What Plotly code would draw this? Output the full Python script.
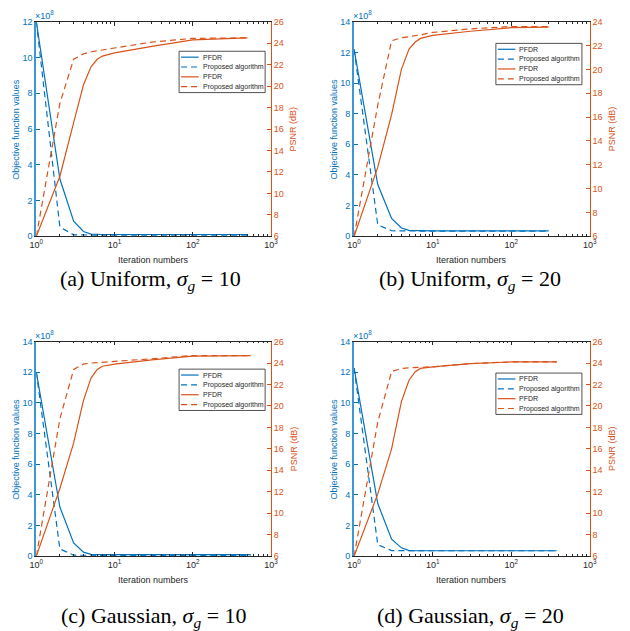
import plotly.graph_objects as go

# ---------------- data ----------------
panel_labels = ["(a) Uniform, <i>σ<sub>g</sub></i> = 10",
                "(b) Uniform, <i>σ<sub>g</sub></i> = 20",
                "(c) Gaussian, <i>σ<sub>g</sub></i> = 10",
                "(d) Gaussian, <i>σ<sub>g</sub></i> = 20"]
series_names = ["PFDR", "Proposed algorithm"]

iters_a = [1, 2, 3, 4, 5, 6, 7, 10, 30, 100, 500]
obj_pfdr_a = [12.0, 3.2, 0.84, 0.27, 0.12, 0.1, 0.1, 0.1, 0.1, 0.1, 0.1]
obj_prop_a = [12.0, 0.52, 0.08, 0.06, 0.06, 0.06, 0.06, 0.06, 0.06, 0.06, 0.06]
psnr_pfdr_a = [6.0, 11.6, 16.6, 20.1, 21.8, 22.5, 22.8, 23.1, 23.7, 24.3, 24.5]
psnr_prop_a = [6.0, 18.4, 22.5, 23.0, 23.2, 23.3, 23.4, 23.55, 24.1, 24.45, 24.5]

iters_b = [1, 2, 3, 4, 5, 6, 7, 10, 30, 100, 300]
obj_pfdr_b = [12.2, 3.38, 1.16, 0.54, 0.39, 0.37, 0.36, 0.35, 0.35, 0.35, 0.35]
obj_prop_b = [12.2, 0.75, 0.36, 0.34, 0.34, 0.34, 0.34, 0.34, 0.34, 0.34, 0.34]
psnr_pfdr_b = [6.0, 11.8, 16.2, 20.0, 21.7, 22.3, 22.6, 22.85, 23.2, 23.5, 23.55]
psnr_prop_b = [6.0, 17.0, 22.4, 22.65, 22.75, 22.8, 22.9, 23.1, 23.4, 23.6, 23.6]

iters_c = [1, 2, 3, 4, 5, 6, 7, 10, 30, 100, 550]
obj_pfdr_c = [12.0, 3.2, 0.86, 0.26, 0.12, 0.1, 0.1, 0.1, 0.1, 0.1, 0.1]
obj_prop_c = [12.0, 0.47, 0.06, 0.05, 0.05, 0.05, 0.05, 0.05, 0.05, 0.05, 0.05]
psnr_pfdr_c = [6.0, 12.3, 16.55, 20.5, 22.6, 23.4, 23.7, 23.9, 24.3, 24.65, 24.7]
psnr_prop_c = [6.0, 18.8, 23.4, 23.9, 24.0, 24.05, 24.1, 24.15, 24.4, 24.7, 24.7]

iters_d = [1, 2, 3, 4, 5, 6, 7, 10, 30, 100, 380]
obj_pfdr_d = [12.27, 3.43, 1.11, 0.54, 0.36, 0.35, 0.35, 0.35, 0.35, 0.35, 0.35]
obj_prop_d = [12.27, 0.75, 0.36, 0.35, 0.35, 0.35, 0.35, 0.35, 0.35, 0.35, 0.35]
psnr_pfdr_d = [6.0, 11.8, 16.0, 20.4, 22.4, 23.2, 23.5, 23.65, 23.95, 24.1, 24.1]
psnr_prop_d = [6.0, 18.5, 23.2, 23.5, 23.55, 23.6, 23.6, 23.65, 23.95, 24.1, 24.1]

obj_ranges = [[0, 12], [0, 14], [0, 14], [0, 14]]
psnr_ranges = [[6, 26], [6, 24], [6, 26], [6, 26]]
x_tickvals = [1, 10, 100, 1000]
x_ticktext = ["10<sup>0</sup>", "10<sup>1</sup>", "10<sup>2</sup>", "10<sup>3</sup>"]

panels = [
    (iters_a, obj_pfdr_a, obj_prop_a, psnr_pfdr_a, psnr_prop_a),
    (iters_b, obj_pfdr_b, obj_prop_b, psnr_pfdr_b, psnr_prop_b),
    (iters_c, obj_pfdr_c, obj_prop_c, psnr_pfdr_c, psnr_prop_c),
    (iters_d, obj_pfdr_d, obj_prop_d, psnr_pfdr_d, psnr_prop_d),
]

# ---------------- layout geometry (pixels) ----------------
W, H = 630, 631
BLUE = "#0072BD"
BLUE_AX = "#3d96d6"
ORANGE = "#D95319"
GRAY = "#262626"
DASH = "6px,4px"
boxes = [(30, 270, 17, 235), (355, 596, 17, 235), (30, 270, 342, 560), (355, 596, 342, 560)]
legend_pos = [(176, 47), (500, 39), (176, 370), (500, 374)]
caption_pos = [(147, 279), (474, 279), (150, 622), (474, 622)]

def px(x):
    return x / W

def py(y):
    return 1 - y / H

minor_vals = [m * 10 ** d for d in range(3) for m in range(2, 10)]

fig = go.Figure()
layout = dict(width=W, height=H, margin=dict(l=0, r=0, t=0, b=0),
              paper_bgcolor="white", plot_bgcolor="white", showlegend=False,
              font=dict(family="Liberation Sans, Arial", size=9, color=GRAY))
annotations = []
shapes = []

def ann(text, x, y, color, size=9, xanchor="center", yanchor="middle", angle=0, family=None):
    d = dict(text=text, x=px(x), y=py(y), xref="paper", yref="paper",
             xanchor=xanchor, yanchor=yanchor, showarrow=False, textangle=angle,
             font=dict(size=size, color=color))
    if family:
        d["font"]["family"] = family
    annotations.append(d)

for i, (it, op, oq, pp, pq) in enumerate(panels):
    n = i + 1
    xa = "x" if n == 1 else f"x{n}"
    yl = "y" if i == 0 else f"y{2*i+1}"
    yr = f"y{2*i+2}"
    fig.add_trace(go.Scatter(x=it, y=op, mode="lines", name=series_names[0],
                             line=dict(color=BLUE, width=1.2), xaxis=xa, yaxis=yl))
    fig.add_trace(go.Scatter(x=it, y=oq, mode="lines", name=series_names[1],
                             line=dict(color=BLUE, width=1.2, dash=DASH), xaxis=xa, yaxis=yl))
    fig.add_trace(go.Scatter(x=it, y=pp, mode="lines", name=series_names[0],
                             line=dict(color=ORANGE, width=1.2), xaxis=xa, yaxis=yr))
    fig.add_trace(go.Scatter(x=it, y=pq, mode="lines", name=series_names[1],
                             line=dict(color=ORANGE, width=1.2, dash=DASH), xaxis=xa, yaxis=yr))

    l, r, t, b = boxes[i]
    xkey = "xaxis" if n == 1 else f"xaxis{n}"
    ylkey = "yaxis" if i == 0 else f"yaxis{2*i+1}"
    yrkey = f"yaxis{2*i+2}"
    layout[xkey] = dict(domain=[px(l), px(r)], anchor=yl, type="log", range=[0, 3],
                        tickmode="array", tickvals=x_tickvals, ticktext=x_ticktext,
                        ticks="inside", ticklen=4, tickcolor=GRAY, tickwidth=0.8,
                        minor=dict(tickmode="array", tickvals=minor_vals, ticks="inside",
                                   ticklen=2, tickcolor=GRAY, tickwidth=0.6),
                        showline=True, linecolor=GRAY, linewidth=0.8, mirror="ticks",
                        showgrid=False, zeroline=False,
                        tickfont=dict(size=9, color=GRAY))
    layout[ylkey] = dict(domain=[py(b), py(t)], anchor=xa, range=obj_ranges[i],
                         dtick=2, ticks="inside", ticklen=4, tickcolor=BLUE,
                         showline=True, linecolor=BLUE_AX, linewidth=2,
                         showgrid=False, zeroline=False,
                         tickfont=dict(size=9, color=BLUE))
    layout[yrkey] = dict(domain=[py(b), py(t)], anchor=xa, overlaying=yl, side="right",
                         range=psnr_ranges[i], dtick=2, ticks="inside", ticklen=4, tickcolor=ORANGE,
                         showline=True, linecolor=ORANGE, linewidth=1,
                         showgrid=False, zeroline=False,
                         tickfont=dict(size=9, color=ORANGE))
    # axis titles
    ann("Iteration numbers", (l + r) / 2, b + 24, GRAY, size=9)
    ann("Objective function values", l - 21, (t + b) / 2, BLUE, size=9, angle=-90)
    ann("PSNR (dB)", r + 23, (t + b) / 2, ORANGE, size=9, angle=-90)
    ann("×10<sup>8</sup>", l - 3, t + 1, BLUE, size=9, xanchor="left", yanchor="bottom")

    # legend (drawn manually to match compact MATLAB layout)
    lx, ly = legend_pos[i]
    shapes.append(dict(type="rect", xref="paper", yref="paper",
                       x0=px(lx), x1=px(lx + 88), y0=py(ly), y1=py(ly + 42),
                       line=dict(color=GRAY, width=0.8), fillcolor="white", layer="above"))
    styles = [(BLUE, "solid"), (BLUE, DASH), (ORANGE, "solid"), (ORANGE, DASH)]
    names = [series_names[0], series_names[1], series_names[0], series_names[1]]
    for k, ((col, dsh), nm) in enumerate(zip(styles, names)):
        yy = ly + 6 + 10 * k
        shapes.append(dict(type="line", xref="paper", yref="paper",
                           x0=px(lx + 2), x1=px(lx + 20), y0=py(yy), y1=py(yy),
                           line=dict(color=col, width=1.2, dash=dsh), layer="above"))
        ann(nm, lx + 22, yy, GRAY, size=7, xanchor="left")

    cx, cy = caption_pos[i]
    ann(panel_labels[i], cx, cy, "black", size=22, family="Liberation Serif, Times New Roman, serif")

layout["annotations"] = annotations
layout["shapes"] = shapes
fig.update_layout(**layout)
fig.write_html("out.html")
